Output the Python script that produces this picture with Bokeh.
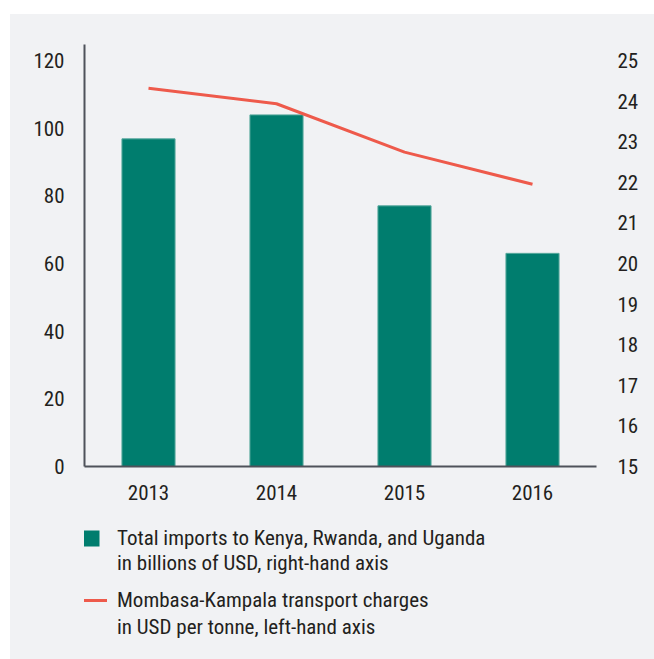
from bokeh.plotting import figure
from bokeh.layouts import column
from bokeh.models import Range1d, LinearAxis, Legend, LegendItem, FixedTicker, ColumnDataSource
from bokeh.embed import file_html
from bokeh.resources import INLINE

years = ["2013", "2014", "2015", "2016"]
imports_bn = [23.07, 23.66, 21.42, 20.25]
transport_usd = [111.8, 107.2, 92.9, 83.4]
left_ticks = [0, 20, 40, 60, 80, 100, 120]
right_ticks = [15, 16, 17, 18, 19, 20, 21, 22, 23, 24, 25]
legend_imports = ["Total imports to Kenya, Rwanda, and Uganda", "in billions of USD, right-hand axis"]
legend_transport = ["Mombasa-Kampala transport charges", "in USD per tonne, left-hand axis"]

FONT = "'Liberation Sans Narrow', 'Roboto Condensed', 'DejaVu Sans Condensed', Roboto, sans-serif"
FS = "21px"
TXT = "#231f20"
BG = "#f1f2f4"
AX = "#4f525a"
TEAL = "#007d6e"
RED = "#ee5a4b"

xs = list(range(len(years)))
src = ColumnDataSource(dict(x=xs, imp=imports_bn, tr=transport_usd))

p = figure(width=644, height=501, output_backend="svg", toolbar_location=None,
           x_range=Range1d(-0.5, 3.5), y_range=Range1d(0, 124.7),
           min_border_left=74, min_border_right=58, min_border_top=30,
           min_border_bottom=49, y_axis_location=None, x_axis_location=None)
p.background_fill_color = BG
p.border_fill_color = BG
p.outline_line_color = None
p.grid.visible = False

p.extra_y_ranges = {"right": Range1d(15, 25.394)}

p.vbar(x="x", top="imp", bottom=15, width=0.415, source=src, y_range_name="right",
       fill_color=TEAL, line_color="#58a99d", line_width=1)
p.line(x="x", y="tr", source=src, line_color=RED, line_width=3)

def style(ax):
    ax.major_label_text_font = FONT
    ax.major_label_text_font_size = FS
    ax.major_label_text_color = TXT
    ax.major_tick_line_color = None
    ax.minor_tick_line_color = None
    ax.major_tick_out = 0
    ax.major_tick_in = 0

yl = LinearAxis(ticker=FixedTicker(ticks=left_ticks))
style(yl)
yl.axis_line_color = AX
yl.axis_line_width = 2
yl.major_label_standoff = 20
p.add_layout(yl, "left")

yr = LinearAxis(y_range_name="right", ticker=FixedTicker(ticks=right_ticks))
style(yr)
yr.axis_line_color = None
yr.major_label_standoff = 21
p.add_layout(yr, "right")

xa = LinearAxis(ticker=FixedTicker(ticks=xs),
                major_label_overrides={i: y for i, y in enumerate(years)})
style(xa)
xa.axis_line_color = AX
xa.axis_line_width = 2
xa.major_label_standoff = 18
p.add_layout(xa, "below")

# legend panel (hidden copies of the two series provide the legend glyphs)
q = figure(width=644, height=144, output_backend="svg", toolbar_location=None,
           x_range=Range1d(0, 1), y_range=Range1d(0, 1),
           min_border=0, x_axis_location=None, y_axis_location=None)
q.background_fill_color = BG
q.border_fill_color = BG
q.outline_line_color = None
q.grid.visible = False
leg_bar = q.vbar(x="x", top="imp", width=0.1, source=src, fill_color=TEAL, line_color=None, visible=False)
leg_line = q.line(x="x", y="tr", source=src, line_color=RED, line_width=3, visible=False)

def make_legend(lines, renderer, loc, gw, gh, standoff, spacing):
    items = [LegendItem(label=lines[0], renderers=[renderer]),
             LegendItem(label=lines[1], renderers=[])]
    lg = Legend(items=items, location=loc)
    lg.margin = 0
    lg.padding = 0
    lg.border_line_color = None
    lg.background_fill_alpha = 0
    lg.glyph_width = gw
    lg.glyph_height = gh
    lg.label_standoff = standoff
    lg.spacing = spacing
    lg.label_text_font = FONT
    lg.label_text_font_size = FS
    lg.label_text_color = TXT
    lg.click_policy = "none"
    q.add_layout(lg, "center")

make_legend(legend_imports, leg_bar, (-3, 84), 20, 20, 16, 1)
make_legend(legend_transport, leg_line, (-2, 20), 25, 20, 10, 3)

layout = column(p, q, spacing=0, styles={"background-color": BG})
layout.margin = (14, 0, 0, 10)
open("out.html", "w").write(file_html(layout, INLINE))
